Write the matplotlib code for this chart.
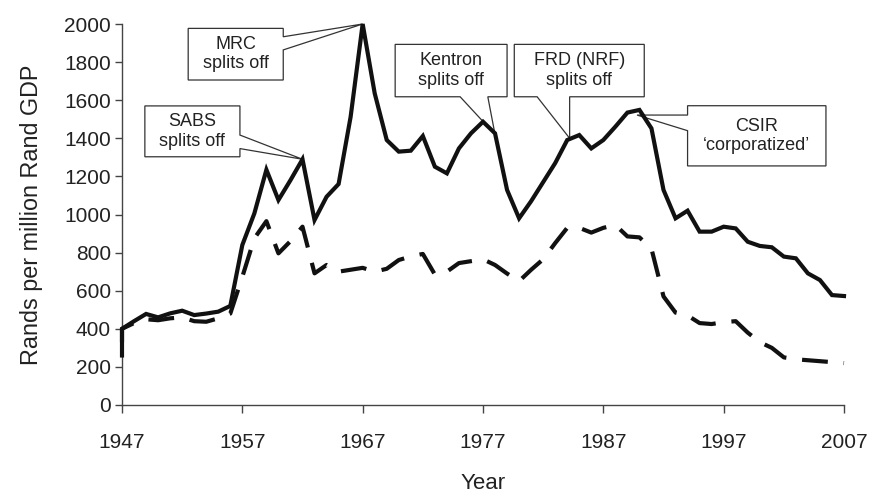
import matplotlib
matplotlib.use("Agg")
import matplotlib.pyplot as plt
from matplotlib.patches import Polygon

plt.rcParams['font.family'] = ['Liberation Sans', 'DejaVu Sans']

# ---- data -------------------------------------------------------------
years = [1947, 1947] + list(range(1948, 2008))
total = [260, 400, 440, 478, 460, 481, 495, 472, 480, 490, 520,
         840, 1006, 1235, 1076, 1180, 1290, 971, 1093, 1160, 1513,
         2000, 1636, 1391, 1330, 1335, 1412, 1251, 1216, 1347, 1426,
         1487, 1426, 1129, 980, 1070, 1170, 1270, 1391, 1417, 1347,
         1391, 1461, 1535, 1549, 1452, 1129, 980, 1020, 910, 910,
         936, 927, 857, 835, 828, 779, 770, 691, 656, 577, 572]
excl = [330, 400, 430, 450, 445, 455, 460, 440, 437, 455, 480,
        673, 875, 965, 796, 860, 936, 691, 735, 700, 710,
        720, 700, 715, 761, 780, 793, 685, 700, 745, 755,
        765, 735, 690, 650, 710, 765, 850, 930, 930, 905,
        930, 945, 885, 880, 820, 570, 485, 470, 430, 425,
        435, 440, 380, 330, 300, 250, 240, 235, 230, 225, 220]
xticks = [1947, 1957, 1967, 1977, 1987, 1997, 2007]
yticks = list(range(0, 2001, 200))

# callouts: text, box (x0, x1, y0, y1), side, base pts, tip
callouts = [
    ("MRC\nsplits off", (1952.5, 1960.4, 1706, 1977), "right", (1864, 1933), (1967, 2000)),
    ("SABS\nsplits off", (1948.9, 1956.8, 1303, 1570), "right", (1346, 1417), (1962, 1290)),
    ("Kentron\nsplits off", (1969.7, 1979.0, 1618, 1893), "bottom", (1975.1, 1977.4), (1978.0, 1420)),
    ("FRD (NRF)\nsplits off", (1979.6, 1990.4, 1618, 1893), "bottom", (1981.5, 1984.2), (1984.2, 1400)),
    ("CSIR\n\u2018corporatized\u2019", (1994.0, 2005.5, 1255, 1571), "left", (1440, 1522), (1989.8, 1522)),
]

# ---- figure -----------------------------------------------------------
fig = plt.figure(figsize=(8.72, 4.93), dpi=100)
ax = fig.add_axes([122/872, 1-405/493, (844-122)/872, (405-24)/493])

ax.plot(years, total, color='#111111', lw=3, solid_joinstyle='miter',
        zorder=4, clip_on=False)
ax.plot(years, excl, color='#111111', lw=3, linestyle=(0, (6.2, 3.8)),
        dash_capstyle='butt', zorder=4, clip_on=False)

def callout(text, box, side, base, tip):
    x0, x1, y0, y1 = box
    if side == "bottom":
        pts = [(x0, y0), (base[0], y0), tip, (base[1], y0), (x1, y0), (x1, y1), (x0, y1)]
    elif side == "right":
        pts = [(x0, y0), (x1, y0), (x1, base[0]), tip, (x1, base[1]), (x1, y1), (x0, y1)]
    else:
        pts = [(x0, y0), (x1, y0), (x1, y1), (x0, y1), (x0, base[1]), tip, (x0, base[0])]
    poly = Polygon(pts, closed=True, facecolor='white', edgecolor='#333333',
                   lw=0.9, zorder=3, clip_on=False, joinstyle='miter')
    ax.add_patch(poly)
    ax.text((x0 + x1) / 2, (y0 + y1) / 2, text, ha='center', va='center',
            fontsize=13, color='#222222', linespacing=1.2, zorder=5)

for c in callouts:
    callout(*c)

ax.set_xlim(1947, 2007)
ax.set_ylim(0, 2000)
ax.set_xticks(xticks)
ax.set_yticks(yticks)
for s in ['top', 'right']:
    ax.spines[s].set_visible(False)
for s in ['left', 'bottom']:
    ax.spines[s].set_color('#444444')
    ax.spines[s].set_linewidth(1.0)
ax.tick_params(axis='x', direction='out', length=6, width=1.0, color='#444444',
               labelsize=15, labelcolor='#222222', pad=14)
ax.tick_params(axis='y', direction='out', length=5, width=1.0, color='#444444',
               labelsize=15, labelcolor='#222222', pad=3)
ax.set_xlabel('Year', fontsize=16, color='#222222', labelpad=15)
ax.set_ylabel('Rands per million Rand GDP', fontsize=16.8, color='#222222', labelpad=15)

fig.savefig('out.png', dpi=100)
